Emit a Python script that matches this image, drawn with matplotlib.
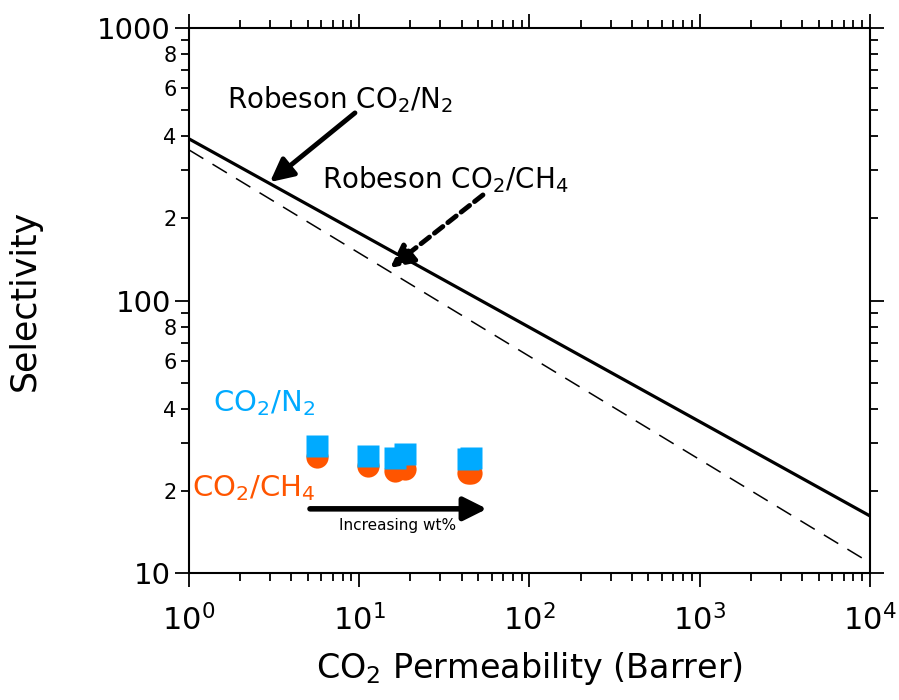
import numpy as np
import matplotlib
matplotlib.use("Agg")
import matplotlib.pyplot as plt
from matplotlib.ticker import LogLocator, FixedLocator, FixedFormatter, LogFormatterMathtext

BLUE = "#00AAFF"
ORANGE = "#FF5500"

# Robeson 2008 upper bounds (end points, straight on log-log)
bound_perm = [1.0, 1.0e4]
bound_co2_n2 = [392.0, 16.2]
bound_co2_ch4 = [357.0, 10.9]

# membrane samples, increasing filler wt%
perm = [5.65, 11.2, 16.2, 18.6, 43.5, 45.5]
sel_co2_n2 = [29.2, 26.9, 26.4, 27.4, 26.2, 26.4]
sel_co2_ch4 = [26.7, 24.7, 23.7, 24.0, 23.3, 23.3]

y_minor_vals = [2, 4, 6, 8]

fig = plt.figure(figsize=(8.99, 7.0), dpi=100)
ax = fig.add_axes([0.2102, 0.1814, 0.7575, 0.7786])

ax.plot(bound_perm, bound_co2_n2, color="black", lw=2.3, solid_capstyle="butt")
ax.plot(bound_perm, bound_co2_ch4, color="black", lw=1.1, dashes=(11, 7))

ax.plot(perm, sel_co2_ch4, "o", color=ORANGE, ms=16, mec="none", zorder=3)
ax.plot(perm, sel_co2_n2, "s", color=BLUE, ms=16, mec="none", zorder=4)

ax.set_xscale("log")
ax.set_yscale("log")
ax.set_xlim(1, 1e4)
ax.set_ylim(10, 1000)

ax.xaxis.set_major_locator(LogLocator(base=10, numticks=10))
ax.xaxis.set_minor_locator(LogLocator(base=10, subs=np.arange(2, 10), numticks=20))
ax.xaxis.set_major_formatter(LogFormatterMathtext())
ax.xaxis.set_minor_formatter(FixedFormatter([]))

ax.yaxis.set_major_locator(FixedLocator([10, 100, 1000]))
ax.yaxis.set_major_formatter(FixedFormatter(["10", "100", "1000"]))
minor_y = [m * d for d in (10, 100) for m in range(2, 10)]
ax.yaxis.set_minor_locator(FixedLocator(minor_y))
ax.yaxis.set_minor_formatter(FixedFormatter(
    [str(int(v // (10 if v < 100 else 100))) if int(v // (10 if v < 100 else 100)) in y_minor_vals else ""
     for v in minor_y]))

ax.tick_params(which="both", direction="out", top=True, right=True, width=1.3, color="black")
ax.tick_params(which="major", length=10, labelsize=21, pad=3)
ax.tick_params(which="minor", length=6, labelsize=15, pad=3)
ax.tick_params(axis="x", which="major", labelsize=22, pad=12)
for s in ax.spines.values():
    s.set_linewidth(1.5)

ax.set_xlabel(r"CO$_2$ Permeability (Barrer)", fontsize=24, labelpad=10)
ax.set_ylabel("Selectivity", fontsize=25, labelpad=40)

# bound labels and pointers
ax.text(1.67, 544, r"Robeson CO$_2$/N$_2$", fontsize=20, ha="left", va="center")
ax.annotate("", xy=(2.99, 272), xytext=(9.44, 488),
            arrowprops=dict(arrowstyle="-|>,head_length=0.5,head_width=0.25", lw=3.5,
                            color="black", mutation_scale=28, shrinkA=0, shrinkB=0))
ax.text(6.04, 277, r"Robeson CO$_2$/CH$_4$", fontsize=20, ha="left", va="center")
ax.annotate("", xy=(15.2, 131.6), xytext=(53.3, 244),
            arrowprops=dict(arrowstyle="-|>,head_length=0.5,head_width=0.25", lw=3.5,
                            color="black", mutation_scale=28,
                            linestyle=(0, (2.2, 1.3)), shrinkA=0, shrinkB=0))

ax.text(1.38, 42.1, r"CO$_2$/N$_2$", fontsize=21, color=BLUE, ha="left", va="center")
ax.text(1.04, 20.5, r"CO$_2$/CH$_4$", fontsize=21, color=ORANGE, ha="left", va="center")

ax.annotate("", xy=(56.3, 17.2), xytext=(5.14, 17.2),
            arrowprops=dict(arrowstyle="-|>,head_length=0.5,head_width=0.25", lw=4,
                            color="black", mutation_scale=28, shrinkA=0, shrinkB=0))
ax.text(16.7, 15.0, "Increasing wt%", fontsize=11, ha="center", va="center")

fig.savefig("out.png", dpi=100)
